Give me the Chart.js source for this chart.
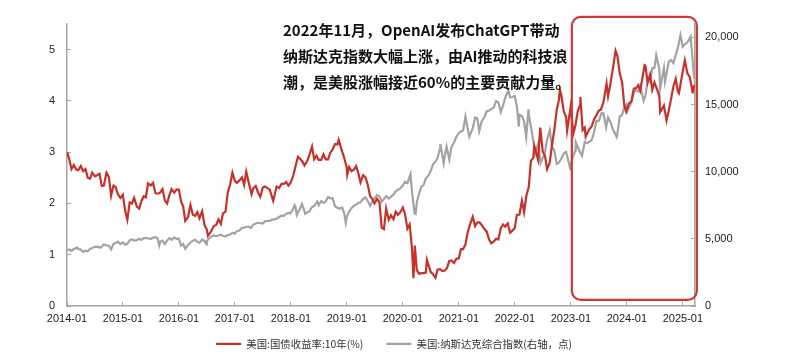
<!DOCTYPE html>
<html>
<head>
<meta charset="utf-8">
<script src="https://cdn.jsdelivr.net/npm/chart.js@4/dist/chart.umd.min.js"></script>
<style>
html,body{margin:0;padding:0;background:#ffffff;}
#wrap{position:relative;width:788px;height:355px;overflow:hidden;}
#c{position:absolute;left:0;top:0;}
#note{position:absolute;left:283px;top:17px;font-family:"Noto Sans CJK SC","Noto Sans",sans-serif;font-weight:700;font-size:15px;line-height:26px;color:#111;white-space:nowrap;}
</style>
</head>
<body>
<div id="wrap">
<canvas id="c" width="788" height="355"></canvas>
<div id="note">2022年11月，OpenAI发布ChatGPT带动<br>纳斯达克指数大幅上涨，由AI推动的科技浪<br>潮，是美股涨幅接近60%的主要贡献力量。</div>
</div>
<script>
// ---- series names ----
const seriesNames = ['美国:国债收益率:10年(%)', '美国:纳斯达克综合指数(右轴，点)'];

// ---- x-axis tick labels (January of each year) ----
const xTickLabels = ['2014-01','2015-01','2016-01','2017-01','2018-01','2019-01','2020-01','2021-01','2022-01','2023-01','2024-01','2025-01'];
const yLeftTicks = [0,1,2,3,4,5];
const yRightTicks = [0,5000,10000,15000,20000];

// ---- US 10Y Treasury yield (%) ----
const yieldDates = [
'2014-01-02','2014-01-15','2014-01-31','2014-02-14','2014-02-28','2014-03-14','2014-03-31','2014-04-15','2014-04-30','2014-05-15','2014-05-30','2014-06-13','2014-06-30','2014-07-15','2014-07-31','2014-08-15','2014-08-29','2014-09-15','2014-09-30','2014-10-15','2014-10-31','2014-11-14','2014-11-28','2014-12-15','2014-12-31',
'2015-01-15','2015-01-30','2015-02-13','2015-02-27','2015-03-13','2015-03-31','2015-04-15','2015-04-30','2015-05-15','2015-05-29','2015-06-12','2015-06-30','2015-07-15','2015-07-31','2015-08-14','2015-08-31','2015-09-15','2015-09-30','2015-10-15','2015-10-30','2015-11-13','2015-11-30','2015-12-15','2015-12-31',
'2016-01-15','2016-01-29','2016-02-11','2016-02-29','2016-03-15','2016-03-31','2016-04-15','2016-04-29','2016-05-13','2016-05-31','2016-06-15','2016-06-30','2016-07-08','2016-07-29','2016-08-15','2016-08-31','2016-09-15','2016-09-30','2016-10-14','2016-10-31','2016-11-15','2016-11-30','2016-12-15','2016-12-30',
'2017-01-13','2017-01-31','2017-02-15','2017-02-28','2017-03-14','2017-03-31','2017-04-18','2017-04-28','2017-05-15','2017-05-31','2017-06-14','2017-06-30','2017-07-14','2017-07-31','2017-08-15','2017-08-31','2017-09-07','2017-09-29','2017-10-16','2017-10-31','2017-11-15','2017-11-30','2017-12-15','2017-12-29',
'2018-01-16','2018-01-31','2018-02-15','2018-02-28','2018-03-15','2018-03-29','2018-04-16','2018-04-30','2018-05-17','2018-05-31','2018-06-15','2018-06-29','2018-07-16','2018-07-31','2018-08-15','2018-08-31','2018-09-14','2018-09-28','2018-10-15','2018-10-31','2018-11-08','2018-11-30','2018-12-14','2018-12-31',
'2019-01-03','2019-01-15','2019-01-31','2019-02-15','2019-02-28','2019-03-15','2019-03-29','2019-04-15','2019-04-30','2019-05-15','2019-05-31','2019-06-14','2019-06-28','2019-07-15','2019-07-31','2019-08-15','2019-08-30','2019-09-13','2019-09-30','2019-10-15','2019-10-31','2019-11-15','2019-11-29','2019-12-13','2019-12-31',
'2020-01-15','2020-01-31','2020-02-14','2020-02-28','2020-03-09','2020-03-18','2020-03-31','2020-04-15','2020-04-30','2020-05-15','2020-05-29','2020-06-05','2020-06-30','2020-07-15','2020-07-31','2020-08-14','2020-08-31','2020-09-15','2020-09-30','2020-10-15','2020-10-30','2020-11-13','2020-11-30','2020-12-15','2020-12-31',
'2021-01-15','2021-01-29','2021-02-12','2021-02-26','2021-03-15','2021-03-31','2021-04-15','2021-04-30','2021-05-14','2021-05-28','2021-06-15','2021-06-30','2021-07-15','2021-07-30','2021-08-16','2021-08-31','2021-09-15','2021-09-30','2021-10-15','2021-10-29','2021-11-15','2021-11-30','2021-12-15','2021-12-31',
'2022-01-14','2022-01-31','2022-02-15','2022-02-28','2022-03-15','2022-03-31','2022-04-14','2022-04-29','2022-05-06','2022-05-31','2022-06-14','2022-06-30','2022-07-15','2022-07-29','2022-08-15','2022-08-31','2022-09-15','2022-09-30','2022-10-14','2022-10-21','2022-10-31','2022-11-15','2022-11-30','2022-12-07','2022-12-30',
'2023-01-18','2023-01-31','2023-02-15','2023-02-28','2023-03-02','2023-03-17','2023-03-31','2023-04-06','2023-04-28','2023-05-15','2023-05-31','2023-06-15','2023-06-30','2023-07-14','2023-07-31','2023-08-21','2023-08-31','2023-09-15','2023-09-29','2023-10-19','2023-10-31','2023-11-15','2023-11-30','2023-12-15','2023-12-27',
'2024-01-15','2024-01-31','2024-02-15','2024-02-29','2024-03-15','2024-03-28','2024-04-25','2024-04-30','2024-05-15','2024-05-31','2024-06-14','2024-06-28','2024-07-15','2024-07-31','2024-08-05','2024-08-30','2024-09-16','2024-09-30','2024-10-15','2024-10-31','2024-11-15','2024-11-29','2024-12-06','2024-12-31',
'2025-01-14','2025-01-31','2025-02-14','2025-02-28','2025-03-04','2025-03-14'
];
const yieldValues = [
3.00,2.87,2.67,2.75,2.66,2.65,2.73,2.63,2.67,2.50,2.48,2.60,2.53,2.55,2.58,2.34,2.35,2.60,2.52,2.15,2.35,2.32,2.18,2.11,2.17,
1.86,1.68,2.02,2.00,2.11,1.94,1.90,2.05,2.14,2.12,2.39,2.35,2.40,2.20,2.19,2.21,2.28,2.06,2.00,2.16,2.28,2.21,2.27,2.27,
2.04,1.94,1.66,1.74,1.97,1.78,1.76,1.83,1.71,1.85,1.58,1.49,1.37,1.46,1.56,1.58,1.69,1.60,1.80,1.84,2.22,2.37,2.60,2.45,
2.40,2.45,2.51,2.36,2.62,2.40,2.18,2.29,2.34,2.21,2.13,2.31,2.33,2.30,2.27,2.12,2.05,2.33,2.30,2.38,2.38,2.42,2.35,2.40,
2.54,2.72,2.91,2.87,2.82,2.74,2.83,2.95,3.11,2.86,2.93,2.85,2.85,2.96,2.86,2.86,2.99,3.05,3.16,3.15,3.24,3.01,2.89,2.69,
2.56,2.71,2.63,2.66,2.73,2.59,2.41,2.55,2.51,2.37,2.14,2.09,2.00,2.09,2.02,1.53,1.50,1.90,1.68,1.77,1.69,1.84,1.78,1.82,1.92,
1.79,1.51,1.59,1.13,0.54,1.18,0.70,0.63,0.64,0.64,0.65,0.90,0.66,0.62,0.55,0.71,0.72,0.68,0.69,0.74,0.88,0.89,0.84,0.92,0.93,
1.11,1.11,1.20,1.44,1.61,1.74,1.56,1.63,1.63,1.58,1.50,1.45,1.30,1.22,1.26,1.31,1.30,1.52,1.59,1.55,1.61,1.43,1.47,1.52,
1.78,1.78,2.05,1.83,2.15,2.32,2.83,2.89,3.12,2.85,3.48,3.01,2.93,2.67,2.79,3.15,3.45,3.83,4.01,4.22,4.10,3.80,3.68,3.42,3.88,
3.37,3.52,3.81,3.92,4.08,3.43,3.48,3.30,3.44,3.50,3.64,3.72,3.81,3.83,3.97,4.34,4.09,4.33,4.59,4.98,4.88,4.54,4.37,3.91,3.79,
3.95,3.99,4.24,4.25,4.31,4.20,4.70,4.69,4.36,4.51,4.22,4.36,4.23,4.09,3.78,3.91,3.62,3.81,4.03,4.28,4.43,4.18,4.15,4.57,
4.79,4.54,4.47,4.23,4.15,4.31
];

// ---- Nasdaq Composite (points) ----
const nasdaqDates = [
'2014-01-02','2014-01-15','2014-01-31','2014-02-14','2014-02-28','2014-03-06','2014-03-14','2014-03-31','2014-04-14','2014-04-30','2014-05-15','2014-05-30','2014-06-13','2014-06-30','2014-07-15','2014-07-31','2014-08-07','2014-08-29','2014-09-15','2014-09-30','2014-10-15','2014-10-31','2014-11-14','2014-11-28','2014-12-15','2014-12-31',
'2015-01-15','2015-01-30','2015-02-13','2015-02-27','2015-03-13','2015-03-31','2015-04-15','2015-04-30','2015-05-15','2015-05-29','2015-06-15','2015-06-30','2015-07-15','2015-07-31','2015-08-14','2015-08-25','2015-08-31','2015-09-15','2015-09-30','2015-10-15','2015-10-30','2015-11-13','2015-11-30','2015-12-15','2015-12-31',
'2016-01-15','2016-01-29','2016-02-11','2016-02-29','2016-03-15','2016-03-31','2016-04-15','2016-04-29','2016-05-13','2016-05-31','2016-06-15','2016-06-27','2016-06-30','2016-07-15','2016-07-29','2016-08-15','2016-08-31','2016-09-15','2016-09-30','2016-10-14','2016-10-31','2016-11-15','2016-11-30','2016-12-15','2016-12-30',
'2017-01-13','2017-01-31','2017-02-15','2017-02-28','2017-03-15','2017-03-31','2017-04-13','2017-04-28','2017-05-15','2017-05-31','2017-06-15','2017-06-30','2017-07-14','2017-07-31','2017-08-15','2017-08-31','2017-09-15','2017-09-29','2017-10-16','2017-10-31','2017-11-15','2017-11-30','2017-12-15','2017-12-29',
'2018-01-16','2018-01-26','2018-01-31','2018-02-08','2018-02-28','2018-03-12','2018-03-29','2018-04-02','2018-04-30','2018-05-15','2018-05-31','2018-06-20','2018-06-29','2018-07-16','2018-07-31','2018-08-15','2018-08-31','2018-09-14','2018-09-28','2018-10-15','2018-10-31','2018-11-15','2018-11-30','2018-12-14','2018-12-24','2018-12-31',
'2019-01-15','2019-01-31','2019-02-15','2019-02-28','2019-03-15','2019-03-29','2019-04-15','2019-04-30','2019-05-15','2019-05-31','2019-06-14','2019-06-28','2019-07-15','2019-07-31','2019-08-15','2019-08-30','2019-09-13','2019-09-30','2019-10-15','2019-10-31','2019-11-15','2019-11-29','2019-12-13','2019-12-31',
'2020-01-15','2020-01-31','2020-02-19','2020-02-28','2020-03-16','2020-03-23','2020-03-31','2020-04-15','2020-04-30','2020-05-15','2020-05-29','2020-06-15','2020-06-30','2020-07-15','2020-07-31','2020-08-14','2020-08-31','2020-09-02','2020-09-23','2020-09-30','2020-10-12','2020-10-30','2020-11-13','2020-11-30','2020-12-15','2020-12-31',
'2021-01-15','2021-01-29','2021-02-12','2021-02-26','2021-03-08','2021-03-31','2021-04-15','2021-04-30','2021-05-12','2021-05-28','2021-06-15','2021-06-30','2021-07-15','2021-07-30','2021-08-16','2021-08-31','2021-09-15','2021-09-30','2021-10-15','2021-10-29','2021-11-19','2021-11-30','2021-12-15','2021-12-31',
'2022-01-14','2022-01-27','2022-01-31','2022-02-15','2022-02-28','2022-03-14','2022-03-29','2022-03-31','2022-04-14','2022-04-29','2022-05-11','2022-05-31','2022-06-16','2022-06-30','2022-07-15','2022-07-29','2022-08-16','2022-08-31','2022-09-13','2022-09-30','2022-10-13','2022-10-31','2022-11-15','2022-11-30','2022-12-15','2022-12-28','2022-12-30',
'2023-01-13','2023-01-31','2023-02-02','2023-02-28','2023-03-13','2023-03-31','2023-04-14','2023-04-28','2023-05-15','2023-05-31','2023-06-15','2023-06-30','2023-07-19','2023-07-31','2023-08-18','2023-08-31','2023-09-15','2023-09-29','2023-10-26','2023-10-31','2023-11-15','2023-11-30','2023-12-15','2023-12-29',
'2024-01-05','2024-01-31','2024-02-15','2024-02-29','2024-03-15','2024-03-28','2024-04-19','2024-04-30','2024-05-15','2024-05-31','2024-06-14','2024-06-28','2024-07-10','2024-07-31','2024-08-05','2024-08-30','2024-09-06','2024-09-30','2024-10-15','2024-10-31','2024-11-15','2024-11-29','2024-12-16','2024-12-31',
'2025-01-15','2025-01-31','2025-02-19','2025-02-28','2025-03-10','2025-03-14'
];
const nasdaqValues = [
4143,4215,4104,4244,4308,4352,4245,4199,4022,4115,4069,4243,4311,4408,4416,4370,4335,4580,4519,4493,4215,4631,4689,4792,4605,4736,
4570,4635,4893,4964,4871,4901,5011,4941,5048,5070,5029,4987,5099,5128,5048,4506,4777,4860,4620,4870,5054,4927,5109,4995,5007,
4488,4614,4266,4558,4729,4870,4938,4775,4717,4948,4835,4594,4843,5030,5162,5262,5213,5249,5312,5214,5189,5276,5324,5456,5383,
5574,5615,5819,5825,5900,5912,5805,6048,6150,6199,6166,6140,6312,6348,6333,6429,6448,6496,6624,6728,6706,6874,6936,6903,
7224,7505,7411,6777,7273,7588,7063,6871,7066,7351,7442,7782,7510,7805,7672,7775,8110,8010,8046,7430,7306,7259,7331,6911,6193,6635,
7024,7282,7472,7533,7689,7729,7976,8095,7822,7453,7797,8006,8258,8175,7767,7963,8177,7999,8148,8292,8540,8665,8735,8973,
9258,9151,9817,8567,6905,6861,7700,8394,8890,9015,9490,9726,10059,10550,10745,11019,11775,12056,10633,11168,11876,10912,11830,12199,12595,12888,
12998,13070,14095,13192,12609,13247,14039,13962,13032,13749,14073,14504,14543,14673,14793,15259,15162,14449,14897,15498,16057,15538,15566,15645,
14894,13353,14240,14139,13751,12581,14620,14221,13351,12335,11364,12081,10646,11029,11452,12391,13102,11816,11634,10576,10649,10988,11358,11468,10811,10213,10466,
11079,11585,12201,11456,11188,12222,12124,12227,12365,12935,13782,13788,14358,14346,13290,14035,13708,13219,12596,12851,14103,14226,14814,15011,
14524,15164,15906,16092,15973,16379,15282,15658,16742,16735,17689,17733,18647,17599,16200,17714,16691,18189,18316,18095,18680,19218,20173,19311,
19511,19627,20056,18847,17468,17754
];

// ---- helpers ----
function toMonths(s){
  const p = s.split('-').map(Number);
  const dim = new Date(p[0], p[1], 0).getDate();
  return (p[0]-2014)*12 + (p[1]-1) + (p[2]-1)/dim;
}
function pts(dates, vals){ return dates.map((d,i)=>({x: toMonths(d), y: vals[i]})); }

const RED = '#c9302a';
const GREY = '#a3a3a3';
const AXIS = '#a6a6a6';
const TICKFONT = {family:'"Liberation Sans", Arial, sans-serif', size:11};

// highlight box bounds (annotation frame, in axis units)
const BOX = {x0:108.2, x1:135.0, y0:0.12, y1:5.64};

const highlightBox = {
  id:'highlightBox',
  afterDatasetsDraw(chart){
    const {ctx, scales} = chart;
    const l = scales.x.getPixelForValue(BOX.x0), r = scales.x.getPixelForValue(BOX.x1);
    const t = scales.y.getPixelForValue(BOX.y1), b = scales.y.getPixelForValue(BOX.y0);
    ctx.save();
    ctx.strokeStyle = '#cc3a33';
    ctx.lineWidth = 2.2;
    ctx.beginPath();
    ctx.roundRect(l, t, r-l, b-t, 9);
    ctx.stroke();
    ctx.restore();
  }
};

let xAxisH = 20;

const chart = new Chart(document.getElementById('c'), {
  type:'line',
  data:{
    datasets:[
      {label:seriesNames[0], data:pts(yieldDates, yieldValues), yAxisID:'y', borderColor:RED, backgroundColor:RED, borderWidth:2.2, pointRadius:0, tension:0},
      {label:seriesNames[1], data:pts(nasdaqDates, nasdaqValues), yAxisID:'y1', borderColor:GREY, backgroundColor:GREY, borderWidth:2.2, pointRadius:0, tension:0}
    ]
  },
  options:{
    responsive:false,
    animation:false,
    devicePixelRatio:1,
    layout:{padding:{top:24, left:0, right:0, bottom:-4}},
    plugins:{
      legend:{
        position:'bottom',
        labels:{usePointStyle:true, pointStyle:'line', pointStyleWidth:25, padding:23, color:'#333',
          font:{family:'"Noto Sans CJK SC", sans-serif', size:10.4}}
      },
      tooltip:{enabled:false}
    },
    scales:{
      x:{
        type:'linear', min:0, max:134.6,
        afterFit(s){ s.height = xAxisH; },
        afterBuildTicks(s){ s.ticks = xTickLabels.map((_,i)=>({value:i*12})); },
        border:{display:true, color:AXIS, width:1.5},
        grid:{drawOnChartArea:false, drawTicks:true, tickLength:-4, color:AXIS, lineWidth:1},
        ticks:{padding:10, autoSkip:false, maxRotation:0, color:'#222', font:TICKFONT,
          callback:(v)=>xTickLabels[Math.round(v/12)]}
      },
      y:{
        position:'left', min:0, max:5.5,
        afterFit(s){ s.width = 67; },
        afterBuildTicks(s){ s.ticks = yLeftTicks.map(v=>({value:v})); },
        border:{display:true, color:AXIS, width:1.5},
        grid:{drawOnChartArea:false, drawTicks:true, tickLength:-4, color:AXIS, lineWidth:1},
        ticks:{padding:16, color:'#222', font:TICKFONT, callback:(v)=>String(v)}
      },
      y1:{
        position:'right', min:0, max:21000,
        afterFit(s){ s.width = 93; },
        afterBuildTicks(s){ s.ticks = yRightTicks.map(v=>({value:v})); },
        border:{display:true, color:AXIS, width:1.5},
        grid:{drawOnChartArea:false, drawTicks:true, tickLength:-4, color:AXIS, lineWidth:1},
        ticks:{padding:14, color:'#222', font:TICKFONT, callback:(v)=>v.toLocaleString('en-US')}
      }
    }
  },
  plugins:[highlightBox]
});

// x-axis labels sit over the legend band; don't clip them to the (short) axis box
chart.scales.x._computeLabelArea = function(){ return undefined; };

// align plot bottom with the reference (axis at y=306)
const dy = chart.chartArea.bottom - 306;
xAxisH += dy;
chart.update();
</script>
</body>
</html>
